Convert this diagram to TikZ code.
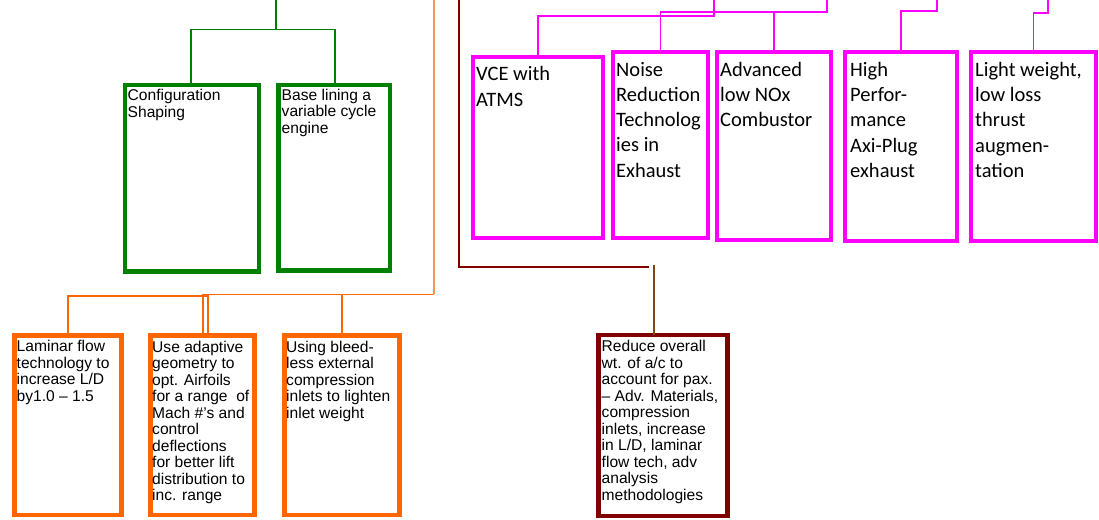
\documentclass[tikz,border=0pt]{standalone}
\usepackage{fontspec}
\setmainfont{Liberation Sans}
\newfontfamily\calibrifont{Carlito}
\definecolor{dgreen}{RGB}{0,128,0}
\definecolor{dorange}{RGB}{255,102,0}
\definecolor{lorange}{RGB}{248,150,80}
\definecolor{pmagenta}{RGB}{255,0,255}
\definecolor{maroon}{RGB}{128,0,0}
\definecolor{dbrown}{RGB}{125,70,20}
\begin{document}
\begin{tikzpicture}[x=1pt,y=-1pt,
  box/.style={draw, line width=4.5pt, inner sep=0pt, outer sep=0pt, anchor=north west, fill=white},
  gbox/.style={box, draw=dgreen},
  obox/.style={box, draw=dorange},
  mbox/.style={box, draw=pmagenta},
  bbox/.style={box, draw=maroon},
  txt/.style={anchor=north west, inner sep=0pt, align=left, font=\fontsize{15.6}{16.5}\selectfont},
  ctxt/.style={anchor=north west, inner sep=0pt, align=left, font=\calibrifont\fontsize{20.5}{25.3}\selectfont},
  gline/.style={draw=dgreen, line width=1.3pt},
  gtrunk/.style={draw=dgreen, line width=2.7pt},
  oline/.style={draw=dorange, line width=1.4pt},
  otrunk/.style={draw=lorange, line width=1.8pt},
  mline/.style={draw=pmagenta, line width=1.5pt},
  bline/.style={draw=maroon, line width=1.8pt},
  bline2/.style={draw=dbrown, line width=1.6pt}
]
\useasboundingbox (0,0) rectangle (1099,519);

% green branch
\node[gbox, minimum width=134pt, minimum height=186.5pt] (g1) at (125,85) {};
\node[gbox, minimum width=111.5pt, minimum height=185.5pt] (g2) at (278.5,85) {};
\node[txt] (g1t) at (127.5,89) {Configuration\\Shaping};
\node[txt] (g2t) at (281.5,88.5) {Base lining a\\variable cycle\\engine};

% orange branch
\node[obox, minimum width=107pt, minimum height=179.5pt] (o1) at (14.5,335.5) {};
\node[obox, minimum width=104pt, minimum height=179.5pt] (o2) at (150.5,335.5) {};
\node[obox, minimum width=115pt, minimum height=179.5pt] (o3) at (284.5,335.5) {};
\node[txt] (o1t) at (16.5,340) {Laminar flow\\technology to\\increase L/D\\by1.0 – 1.5};
\node[txt] (o2t) at (152,340.5) {Use adaptive\\geometry to\\opt. Airfoils\\for a range \ of\\Mach \#’s and\\control\\deflections\\for better lift\\distribution to\\inc. range};
\node[txt] (o3t) at (286,340.5) {Using bleed-\\less external\\compression\\inlets to lighten\\inlet weight};

% maroon branch
\node[bbox, minimum width=129pt, minimum height=181pt] (b1) at (598.5,335) {};
\node[txt] (b1t) at (601.5,340) {Reduce overall\\wt. of a/c to\\account for pax.\\– Adv. Materials,\\compression\\inlets, increase\\in L/D, laminar\\flow tech, adv\\analysis\\methodologies};

% magenta branch
\node[mbox, minimum width=130pt, minimum height=181pt] (m1) at (473,57) {};
\node[mbox, minimum width=95pt, minimum height=186pt] (m2) at (613,52) {};
\node[mbox, minimum width=114pt, minimum height=188pt] (m3) at (717,52) {};
\node[mbox, minimum width=112pt, minimum height=189pt] (m4) at (845,52) {};
\node[mbox, minimum width=125pt, minimum height=189pt] (m5) at (971,52) {};
\node[ctxt] (m1t) at (476,66.5) {VCE with\\ATMS};
\node[ctxt] (m2t) at (616,61.7) {Noise\\Reduction\\Technolog\\ies in\\Exhaust};
\node[ctxt] (m3t) at (720,61.7) {Advanced\\low NOx\\Combustor};
\node[ctxt] (m4t) at (850,61.7) {High\\Perfor-\\mance\\Axi-Plug\\exhaust};
\node[ctxt] (m5t) at (975,61.7) {Light weight,\\low loss\\thrust\\augmen-\\tation};

% connector end points at the top edge
\coordinate (gtop) at (276,0);
\coordinate (gj) at (276,29.3);
\coordinate (otop) at (434,0);
\coordinate (oj) at (434,294.3);
\coordinate (oj2) at (208,296);
\coordinate (btop) at (459,0);
\coordinate (bend) at (649,267);
\coordinate (bj) at (654,265);
\coordinate (mt1) at (714,0);
\coordinate (mt2) at (827,0);
\coordinate (mt3) at (937,0);
\coordinate (mt4) at (1048,0);

% green connectors
\draw[gtrunk] (gtop) -- (gj);
\draw[gline] ([xshift=-1pt]g1.north) |- (gj) -| ([xshift=0.75pt]g2.north);

% orange connectors
\draw[otrunk] (otop) -- (oj);
\draw[oline] (oj) -| ([xshift=0.5pt]o2.north);
\draw[oline] (oj -| o3.north) -- (o3.north);
\draw[oline] ([xshift=5.5pt]o2.north) |- (oj2 -| o1.north) -- (o1.north);

% maroon connectors
\draw[bline] (btop) |- (bend);
\draw[bline2] (bj) -- (bj |- b1.north);

% magenta connectors
\draw[mline] (mt1) -- ++(0,16) -| (m1.north);
\draw[mline] (mt2) -- ++(0,12) -| (m2.north);
\draw[mline] (mt2 |- 0,12) -| (m3.north);
\draw[mline] (mt3) -- ++(0,11) -| (m4.north);
\draw[mline] (mt4) -- ++(0,13) -| (m5.north);
\end{tikzpicture}
\end{document}
